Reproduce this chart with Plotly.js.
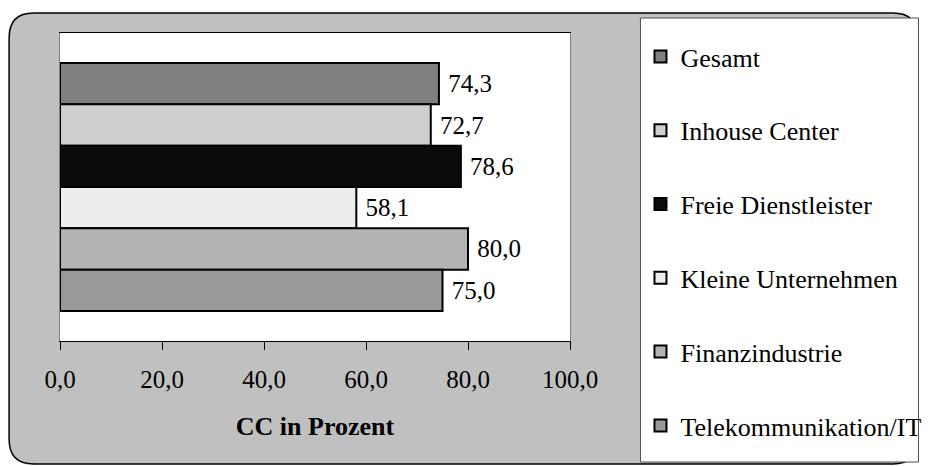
<!DOCTYPE html>
<html>
<head>
<meta charset="utf-8">
<script src="https://cdn.plot.ly/plotly-3.0.1.min.js"></script>
<style>html,body{margin:0;padding:0;background:#fff;}#chart{width:939px;height:466px;}</style>
</head>
<body>
<div id="chart"></div>
<script>
// ---- data ----
const seriesNames = ["Gesamt", "Inhouse Center", "Freie Dienstleister", "Kleine Unternehmen", "Finanzindustrie", "Telekommunikation/IT"];
const seriesValues = [74.3, 72.7, 78.6, 58.1, 80.0, 75.0];
const seriesColors = ["#808080", "#cecece", "#0b0b0b", "#ededed", "#b3b3b3", "#999999"];
const xTickValues = [0, 20, 40, 60, 80, 100];
const xAxisTitle = "CC in Prozent";

// ---- layout geometry (pixels) ----
const W = 939, H = 466;
const M = {l: 60, r: 358, t: 33, b: 125};
const PW = W - M.l - M.r, PH = H - M.t - M.b;
const X = px => (px - M.l) / PW;
const Y = py => (H - M.b - py) / PH;
const FONT = '"Liberation Serif", "Times New Roman", serif';

function roundRect(x0, y0, x1, y1, r) {
  return `M${X(x0 + r)},${Y(y0)} L${X(x1 - r)},${Y(y0)} Q${X(x1)},${Y(y0)} ${X(x1)},${Y(y0 + r)} ` +
         `L${X(x1)},${Y(y1 - r)} Q${X(x1)},${Y(y1)} ${X(x1 - r)},${Y(y1)} ` +
         `L${X(x0 + r)},${Y(y1)} Q${X(x0)},${Y(y1)} ${X(x0)},${Y(y1 - r)} ` +
         `L${X(x0)},${Y(y0 + r)} Q${X(x0)},${Y(y0)} ${X(x0 + r)},${Y(y0)} Z`;
}

const traces = seriesNames.map((name, i) => ({
  type: 'bar',
  orientation: 'h',
  name: name,
  legendgroup: 'g' + i,
  x: [seriesValues[i]],
  y: [0],
  marker: {color: seriesColors[i], line: {color: '#000', width: 2}},
  texttemplate: ' %{x:.1f}',
  textposition: 'outside',
  constraintext: 'none',
  cliponaxis: false,
  textfont: {family: FONT, size: 25, color: '#000'},
  hoverinfo: 'none'
}));

const layout = {
  width: W, height: H,
  margin: M,
  paper_bgcolor: '#ffffff',
  plot_bgcolor: 'rgba(0,0,0,0)',
  separators: ',.',
  barmode: 'group',
  bargap: 0.195,
  bargroupgap: 0,
  font: {family: FONT, size: 25, color: '#000'},
  xaxis: {
    range: [0, 100],
    tickvals: xTickValues,
    tickformat: '.1f',
    showgrid: false,
    zeroline: false,
    showline: true, linecolor: '#000', linewidth: 1, mirror: true,
    ticks: 'outside', ticklen: 8, tickcolor: '#000', tickwidth: 1,
    ticklabelstandoff: 8,
    tickfont: {family: FONT, size: 25, color: '#000'},
    title: {text: '<b>' + xAxisTitle + '</b>', font: {family: FONT, size: 26, color: '#000'}, standoff: 24},
    automargin: false,
    fixedrange: true
  },
  yaxis: {
    range: [0.5, -0.5],
    showticklabels: false,
    showgrid: false,
    zeroline: false,
    showline: true, linecolor: '#808080', linewidth: 1, mirror: true,
    ticks: '',
    automargin: false,
    fixedrange: true
  },
  showlegend: true,
  legend: {
    x: X(653), xanchor: 'left',
    y: Y(33), yanchor: 'top',
    bgcolor: 'rgba(0,0,0,0)',
    borderwidth: 0,
    traceorder: 'grouped',
    tracegroupgap: 37,
    maxheight: 460,
    font: {family: FONT, size: 26, color: '#000'},
    itemclick: false, itemdoubleclick: false
  },
  shapes: [
    {type: 'path', xref: 'paper', yref: 'paper', layer: 'below',
     path: roundRect(8, 13, 936, 464, 25), fillcolor: '#c0c0c0', line: {color: '#000', width: 1.5}},
    {type: 'rect', xref: 'paper', yref: 'paper', layer: 'below',
     x0: X(60), x1: X(581), y0: Y(341), y1: Y(33), fillcolor: '#ffffff', line: {width: 0}},
    {type: 'rect', xref: 'paper', yref: 'paper', layer: 'below',
     x0: X(653), x1: X(937), y0: Y(462), y1: Y(18), fillcolor: '#ffffff', line: {color: '#505050', width: 1}}
  ]
};

Plotly.newPlot('chart', traces, layout, {displayModeBar: false, staticPlot: true});
</script>
</body>
</html>
